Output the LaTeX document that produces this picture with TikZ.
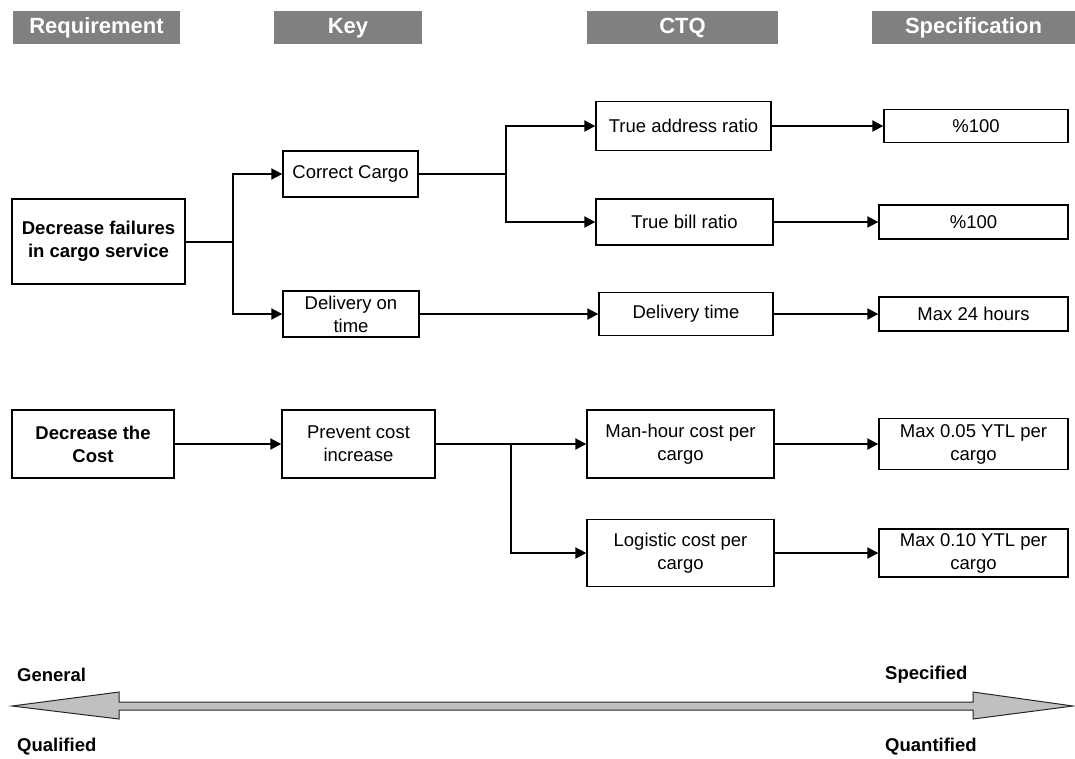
\documentclass[tikz,border=0pt]{standalone}
\usepackage{fontspec}
\setmainfont{Liberation Sans}
\usetikzlibrary{arrows.meta}
\definecolor{headgray}{RGB}{128,128,128}
\definecolor{scalegray}{RGB}{192,192,192}
\tikzset{
  header/.style={fill=headgray, draw=none, text=white, inner sep=0pt,
    font=\fontsize{22}{26}\selectfont\bfseries, minimum height=33pt,
    text height=16pt, text depth=4pt},
  box/.style={draw=black, line width=1.4pt, fill=white, inner sep=0pt, align=center,
    font=\fontsize{18.5}{23}\selectfont},
  boldbox/.style={box, font=\fontsize{18.5}{23}\selectfont\bfseries},
  conn/.style={line width=2pt, -{Triangle[length=11pt,width=11pt]}},
  plainconn/.style={line width=2pt},
  scalelabel/.style={anchor=west, inner sep=0pt, font=\fontsize{18.5}{22}\selectfont\bfseries},
}
\begin{document}
\begin{tikzpicture}[x=1pt, y=-1pt]
\useasboundingbox (0,0) rectangle (1075,758);

% column headers
\node[header, minimum width=167pt] (hReq)  at (96.5,27.5)  {Requirement};
\node[header, minimum width=148pt] (hKey)  at (348,27.5)   {Key};
\node[header, minimum width=191pt] (hCTQ)  at (682.5,27.5) {CTQ};
\node[header, minimum width=203pt] (hSpec) at (973.5,27.5) {Specification};

% first requirement tree
\node[boldbox, minimum width=173pt, minimum height=85pt] (req1) at (98.5,241.5) {Decrease failures\\in cargo service};
\node[box, minimum width=135pt, minimum height=46pt] (key1) at (350.5,174) {Correct Cargo};
\node[box, minimum width=136pt, minimum height=46pt] (key2) at (351,314) {Delivery on\\time};
\node[box, minimum width=175pt, minimum height=49pt] (ctq1) at (683.5,126) {True address ratio};
\node[box, minimum width=177pt, minimum height=46pt] (ctq2) at (684.5,222) {True bill ratio};
\node[box, minimum width=174pt, minimum height=43pt] (ctq3) at (686,314) {Delivery time};
\node[box, minimum width=184pt, minimum height=33pt] (spec1) at (976,126) {\%100};
\node[box, minimum width=189pt, minimum height=34pt] (spec2) at (973.5,222) {\%100};
\node[box, minimum width=189pt, minimum height=34pt] (spec3) at (973.5,314) {Max 24 hours};

% second requirement tree
\node[boldbox, minimum width=162pt, minimum height=68pt] (req2) at (93,444) {Decrease the\\Cost};
\node[box, minimum width=153pt, minimum height=68pt] (key3) at (358.5,444) {Prevent cost\\increase};
\node[box, minimum width=187pt, minimum height=68pt] (ctq4) at (680.5,444) {Man-hour cost per\\cargo};
\node[box, minimum width=187pt, minimum height=67pt] (ctq5) at (680.5,553) {Logistic cost per\\cargo};
\node[box, minimum width=189pt, minimum height=51pt] (spec4) at (973.5,444) {Max 0.05 YTL per\\cargo};
\node[box, minimum width=189pt, minimum height=48pt] (spec5) at (973.5,553) {Max 0.10 YTL per\\cargo};

% branch points
\coordinate (j1) at (233,241.5);
\coordinate (j2) at (506,174);
\coordinate (j3) at (511,444);

% connectors
\draw[plainconn] (req1.east) -- (j1);
\draw[conn] (j1) |- (key1.west);
\draw[conn] (j1) |- (key2.west);
\draw[plainconn] (key1.east) -- (j2);
\draw[conn] (j2) |- (ctq1.west);
\draw[conn] (j2) |- (ctq2.west);
\draw[conn] (key2.east) -- (ctq3.west);
\draw[conn] (ctq1.east) -- (spec1.west);
\draw[conn] (ctq2.east) -- (spec2.west);
\draw[conn] (ctq3.east) -- (spec3.west);
\draw[conn] (req2.east) -- (key3.west);
\draw[plainconn] (key3.east) -- (j3);
\draw[conn] (j3) -- (ctq4.west);
\draw[conn] (j3) |- (ctq5.west);
\draw[conn] (ctq4.east) -- (spec4.west);
\draw[conn] (ctq5.east) -- (spec5.west);

% general-to-specified scale
\draw[fill=scalegray, draw=black!85, line width=1pt, line join=miter]
  (12,706) -- (119,692) -- (119,702) -- (973,702) -- (973,692) -- (1073,706)
  -- (973,719) -- (973,710) -- (119,710) -- (119,719) -- cycle;
\node[scalelabel] (gen)   at (17,675)  {General};
\node[scalelabel] (qual)  at (17,747)  {Qualified};
\node[scalelabel] (spec)  at (885,675) {Specified};
\node[scalelabel] (quant) at (885,747) {Quantified};
\end{tikzpicture}
\end{document}
